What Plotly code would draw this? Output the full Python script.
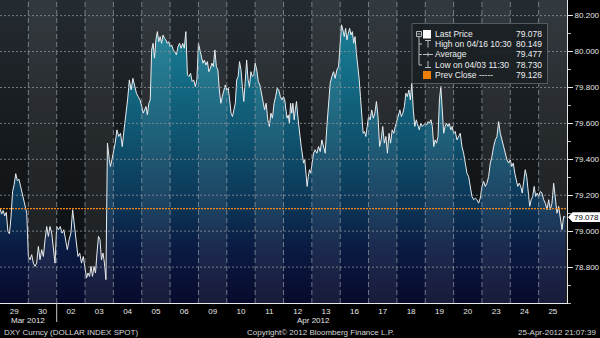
import plotly.graph_objects as go

# ---------------- data ----------------
days = ["29", "30", "02", "03", "04", "05", "06", "09", "10", "11",
        "12", "13", "16", "17", "18", "19", "20", "23", "24", "25"]

d29 = [79.128, 79.095, 79.115, 79.085, 79.105, 79.000, 78.985, 79.080, 79.220,
       79.260, 79.320, 79.280, 79.290, 79.250, 79.215, 79.180, 79.130, 79.100]
d30 = [78.860, 78.841, 78.869, 78.822, 78.804, 78.822, 78.915, 78.841, 78.897,
       78.859, 78.952, 79.026, 78.971, 79.026, 78.989, 78.915, 78.822]
d02 = [79.026, 79.008, 79.026, 78.989, 79.008, 78.952, 78.897, 78.952, 78.989,
       79.119, 79.026, 78.934, 78.859, 78.878, 78.822, 78.859]
d03 = [78.785, 78.739, 78.767, 78.748, 78.804, 78.748, 78.804, 78.767, 78.878,
       78.971, 78.952, 78.841, 78.878, 78.822, 78.730, 79.490, 79.416, 79.360, 79.397]
d04 = [79.434, 79.490, 79.564, 79.527, 79.545, 79.471, 79.564, 79.638, 79.731,
       79.842, 79.786, 79.851, 79.805, 79.768, 79.749, 79.731]
d05 = [79.694, 79.657, 79.675, 79.694, 79.647, 79.712, 79.731, 80.009, 80.046,
       79.963, 80.065, 80.111, 80.055, 80.083, 80.046, 80.092, 80.074, 80.065,
       80.046, 80.055]
d06 = [80.027, 80.037, 80.009, 80.000, 79.981, 80.027, 80.046, 80.018, 80.046,
       80.018, 80.111, 79.870, 79.861, 79.879, 79.833, 79.842, 79.805, 79.842]
d09 = [80.046, 80.009, 79.990, 79.935, 79.953, 79.925, 79.944, 79.888, 79.907,
       79.935, 79.916, 80.009, 79.916, 79.898, 79.786, 79.712, 79.749, 79.777, 79.814]
d10 = [79.786, 79.796, 79.731, 79.657, 79.638, 79.675, 79.712, 79.842, 79.861,
       79.944, 79.898, 79.805, 79.722, 79.833, 79.953, 79.842, 79.805, 79.888,
       79.861, 79.870]
d11 = [79.935, 79.898, 79.833, 79.814, 79.768, 79.731, 79.675, 79.712, 79.620,
       79.583, 79.657, 79.629, 79.712, 79.749, 79.796, 79.786, 79.749, 79.731]
d12 = [79.749, 79.731, 79.657, 79.629, 79.647, 79.601, 79.712, 79.657, 79.712,
       79.620, 79.675, 79.722, 79.647, 79.564, 79.527, 79.471, 79.416, 79.379,
       79.397, 79.323, 79.249, 79.304, 79.342, 79.323]
d13 = [79.379, 79.434, 79.453, 79.434, 79.471, 79.443, 79.508, 79.471, 79.434,
       79.583, 79.731, 79.824, 79.861, 79.888, 79.851, 79.898, 79.916]
d16 = [80.027, 80.149, 80.120, 80.083, 80.129, 80.065, 80.102, 80.129, 80.092,
       80.111, 80.046, 80.083, 79.990, 79.935, 79.851, 79.749, 79.620, 79.545,
       79.555, 79.527, 79.583]
d17 = [79.638, 79.620, 79.675, 79.629, 79.657, 79.722, 79.638, 79.471, 79.508,
       79.583, 79.490, 79.527, 79.434, 79.545, 79.490, 79.564, 79.545, 79.583]
d18 = [79.620, 79.657, 79.675, 79.638, 79.657, 79.694, 79.768, 79.749, 79.786,
       79.731, 79.824, 79.675, 79.583, 79.620, 79.583, 79.564, 79.601, 79.583, 79.592]
d19 = [79.601, 79.592, 79.610, 79.601, 79.620, 79.583, 79.471, 79.508, 79.490,
       79.527, 79.731, 79.805, 79.675, 79.545, 79.583, 79.601, 79.583, 79.601,
       79.564, 79.583]
d20 = [79.545, 79.555, 79.508, 79.527, 79.545, 79.471, 79.434, 79.379, 79.323,
       79.304, 79.249, 79.193, 79.175, 79.184, 79.175, 79.156, 79.184]
d23 = [79.249, 79.277, 79.249, 79.267, 79.304, 79.379, 79.416, 79.471, 79.508,
       79.527, 79.610, 79.545, 79.508, 79.471, 79.434, 79.397, 79.379]
d24 = [79.397, 79.360, 79.379, 79.323, 79.286, 79.249, 79.267, 79.249, 79.212,
       79.286, 79.342, 79.304, 79.193, 79.138, 79.175, 79.193, 79.249, 79.193, 79.212]
d25 = [79.193, 79.221, 79.212, 79.175, 79.156, 79.119, 79.175, 79.119, 79.156,
       79.267, 79.175, 79.100, 79.138, 79.063, 79.008, 79.082, 79.078]

day_values = [d29, d30, d02, d03, d04, d05, d06, d09, d10, d11,
              d12, d13, d16, d17, d18, d19, d20, d23, d24, d25]

ytick_vals = [78.8, 79.0, 79.2, 79.4, 79.6, 79.8, 80.0, 80.2]
y_range = [78.6, 80.287]

last_price = 79.078
high_val = 80.149
avg_val = 79.477
low_val = 78.730
prev_close = 79.126

legend_rows = [
    ("Last Price", last_price),
    ("High on 04/16 10:30", high_val),
    ("Average", avg_val),
    ("Low on 04/03 11:30", low_val),
    ("Prev Close -----", prev_close),
]

footer_left = "DXY Curncy (DOLLAR INDEX SPOT)"
footer_mid = "Copyright\u00a9 2012 Bloomberg Finance L.P."
footer_right = "25-Apr-2012 21:07:39"
month_labels = ["Mar 2012", "Apr 2012"]

# ---------------- build ----------------
xs, ys = [], []
for i, vals in enumerate(day_values):
    n = len(vals)
    for j, v in enumerate(vals):
        xs.append(i + j / n)
        ys.append(v)

NDAYS = len(days)
PW, PH = 567, 303
FONT = "Liberation Sans, Arial, sans-serif"


def pxx(p):
    return p / PW


def pyy(p):
    return 1 - p / PH


fig = go.Figure()

# background vertical gradient (full plot area)
fig.add_trace(go.Scatter(
    x=[0, NDAYS], y=[y_range[1], y_range[1]], mode="lines",
    line=dict(width=0), fill="tozeroy",
    fillgradient=dict(type="vertical", start=y_range[0], stop=y_range[1],
                      colorscale=[[0, "#0c0e11"], [0.5, "#14181b"], [1, "#242b31"]]),
    hoverinfo="skip", showlegend=False))

# price area
fig.add_trace(go.Scatter(
    x=xs, y=ys, mode="lines",
    line=dict(color="#e8ecef", width=1),
    fill="tozeroy",
    fillgradient=dict(type="vertical", start=y_range[0], stop=y_range[1],
                      colorscale=[[0, "#080a2c"], [0.18, "#0a1a42"], [0.31, "#0c3355"],
                                  [0.55, "#0f5470"], [0.8, "#15728a"], [1, "#1b8499"]]),
    hoverinfo="skip", showlegend=False))

shapes = []
# alternate lighter day columns
for i in range(NDAYS):
    if i % 2 == 1:
        shapes.append(dict(type="rect", xref="x", yref="paper", x0=i, x1=i + 1,
                           y0=0, y1=1, fillcolor="rgba(255,255,255,0.07)",
                           line=dict(width=0), layer="above"))
# vertical dashed day separators
for b in range(1, NDAYS):
    shapes.append(dict(type="line", xref="x", yref="paper", x0=b, x1=b, y0=0, y1=1,
                       line=dict(color="rgba(150,158,166,0.7)", width=1, dash="5px,3px"),
                       layer="above"))
# horizontal dotted grid
for v in ytick_vals:
    shapes.append(dict(type="line", xref="paper", yref="y", x0=0, x1=1, y0=v, y1=v,
                       line=dict(color="rgba(140,146,152,0.8)", width=1, dash="2px,2px"),
                       layer="above"))
# prev close line
shapes.append(dict(type="line", xref="paper", yref="y", x0=0, x1=1, y0=prev_close,
                   y1=prev_close, line=dict(color="#f0881c", width=1.3, dash="2px,1px"),
                   layer="above"))
# month separator below axis
shapes.append(dict(type="line", xref="x", yref="paper", x0=2, x1=2, y0=0, y1=pyy(322),
                   line=dict(color="#c8c8c8", width=1)))
# last price tag
hh = 4.8 / 179.8
shapes.append(dict(type="path", xref="paper", yref="y",
                   path=(f"M {pxx(568)} {last_price} L {pxx(572.5)} {last_price + hh} "
                         f"L {pxx(600)} {last_price + hh} L {pxx(600)} {last_price - hh} "
                         f"L {pxx(572.5)} {last_price - hh} Z"),
                   fillcolor="#ffffff", line=dict(width=0)))

# legend box
shapes.append(dict(type="rect", xref="paper", yref="paper",
                   x0=pxx(412), x1=pxx(547.5), y0=pyy(83.5), y1=pyy(23.5),
                   fillcolor="rgba(27,32,36,0.93)", line=dict(color="#555b60", width=1),
                   layer="above"))
icon_line = dict(color="#b8bcc0", width=1)
# tree box with minus
shapes.append(dict(type="rect", xref="paper", yref="paper", x0=pxx(416.5), x1=pxx(421.5),
                   y0=pyy(36.5), y1=pyy(31.5), line=icon_line, layer="above"))
shapes.append(dict(type="line", xref="paper", yref="paper", x0=pxx(417.5), x1=pxx(420.5),
                   y0=pyy(34), y1=pyy(34), line=icon_line, layer="above"))
shapes.append(dict(type="line", xref="paper", yref="paper", x0=pxx(419), x1=pxx(419),
                   y0=pyy(36.5), y1=pyy(65), line=icon_line, layer="above"))
for ry in (44, 54.5, 65):
    shapes.append(dict(type="line", xref="paper", yref="paper", x0=pxx(419), x1=pxx(422),
                       y0=pyy(ry), y1=pyy(ry), line=icon_line, layer="above"))
# white square
shapes.append(dict(type="rect", xref="paper", yref="paper", x0=pxx(423), x1=pxx(431),
                   y0=pyy(38.5), y1=pyy(30), fillcolor="#ffffff", line=dict(width=0),
                   layer="above"))
# high glyph
shapes.append(dict(type="line", xref="paper", yref="paper", x0=pxx(425), x1=pxx(431),
                   y0=pyy(40.5), y1=pyy(40.5), line=icon_line, layer="above"))
shapes.append(dict(type="line", xref="paper", yref="paper", x0=pxx(428), x1=pxx(428),
                   y0=pyy(40.5), y1=pyy(47.5), line=icon_line, layer="above"))
# average glyph
shapes.append(dict(type="line", xref="paper", yref="paper", x0=pxx(423), x1=pxx(433),
                   y0=pyy(54.5), y1=pyy(54.5), line=icon_line, layer="above"))
shapes.append(dict(type="line", xref="paper", yref="paper", x0=pxx(428), x1=pxx(428),
                   y0=pyy(52.5), y1=pyy(56.5), line=icon_line, layer="above"))
# low glyph
shapes.append(dict(type="line", xref="paper", yref="paper", x0=pxx(428), x1=pxx(428),
                   y0=pyy(61), y1=pyy(67.5), line=icon_line, layer="above"))
shapes.append(dict(type="line", xref="paper", yref="paper", x0=pxx(425), x1=pxx(431),
                   y0=pyy(67.5), y1=pyy(67.5), line=icon_line, layer="above"))
# orange square
shapes.append(dict(type="rect", xref="paper", yref="paper", x0=pxx(423), x1=pxx(431),
                   y0=pyy(79), y1=pyy(71), fillcolor="#f07f0a", line=dict(width=0),
                   layer="above"))

annotations = []
row_y = [34, 44.2, 54.4, 64.6, 75]
for (label, val), ry in zip(legend_rows, row_y):
    annotations.append(dict(xref="paper", yref="paper", x=pxx(433), y=pyy(ry),
                            xanchor="left", yanchor="middle", text=label, showarrow=False,
                            font=dict(family=FONT, size=8.5, color="#eceef0")))
    annotations.append(dict(xref="paper", yref="paper", x=pxx(544), y=pyy(ry),
                            xanchor="right", yanchor="middle", text=f"{val:.3f}",
                            showarrow=False, font=dict(family=FONT, size=8.5, color="#eceef0")))

annotations.append(dict(xref="paper", yref="y", x=pxx(586.5), y=last_price,
                        xanchor="center", yanchor="middle", text=f"{last_price:.3f}",
                        showarrow=False, font=dict(family=FONT, size=8, color="#000000")))

annotations.append(dict(xref="paper", yref="paper", x=pxx(28), y=pyy(320.5),
                        xanchor="center", yanchor="middle", text=month_labels[0],
                        showarrow=False, font=dict(family=FONT, size=8, color="#e6e6e6")))
annotations.append(dict(xref="paper", yref="paper", x=pxx(295), y=pyy(320.5),
                        xanchor="left", yanchor="middle", text=month_labels[1],
                        showarrow=False, font=dict(family=FONT, size=8, color="#e6e6e6")))
annotations.append(dict(xref="paper", yref="paper", x=pxx(2), y=pyy(332.5),
                        xanchor="left", yanchor="middle", text=footer_left,
                        showarrow=False, font=dict(family=FONT, size=8, color="#d8d8d8")))
annotations.append(dict(xref="paper", yref="paper", x=pxx(245), y=pyy(332.5),
                        xanchor="left", yanchor="middle", text=footer_mid,
                        showarrow=False, font=dict(family=FONT, size=8, color="#d8d8d8")))
annotations.append(dict(xref="paper", yref="paper", x=pxx(598), y=pyy(332.5),
                        xanchor="right", yanchor="middle", text=footer_right,
                        showarrow=False, font=dict(family=FONT, size=8, color="#d8d8d8")))

fig.update_layout(
    width=600, height=338,
    margin=dict(l=0, r=33, t=0, b=35, pad=0),
    paper_bgcolor="#000000", plot_bgcolor="#000000",
    font=dict(family=FONT, size=8, color="#e6e6e6"),
    showlegend=False,
    shapes=shapes, annotations=annotations,
    xaxis=dict(range=[0, NDAYS], tickmode="array",
               tickvals=[i + 0.5 for i in range(NDAYS)], ticktext=days,
               showgrid=False, zeroline=False, showline=True, linecolor="#e8e8e8",
               linewidth=1, ticks="", tickfont=dict(family=FONT, size=8, color="#e6e6e6"),
               fixedrange=True),
    yaxis=dict(range=y_range, side="right", tickmode="array", tickvals=ytick_vals,
               ticktext=[f"{v:.3f}" for v in ytick_vals],
               showgrid=False, zeroline=False, showline=True, linecolor="#e8e8e8",
               linewidth=1, ticks="outside", ticklen=5, tickcolor="#e8e8e8",
               tickfont=dict(family=FONT, size=8, color="#e6e6e6"),
               minor=dict(dtick=0.1, tick0=78.6, ticks="outside", ticklen=3,
                          tickcolor="#bbbbbb", showgrid=False),
               fixedrange=True),
)

fig.write_html("out.html", config={"displayModeBar": False})
